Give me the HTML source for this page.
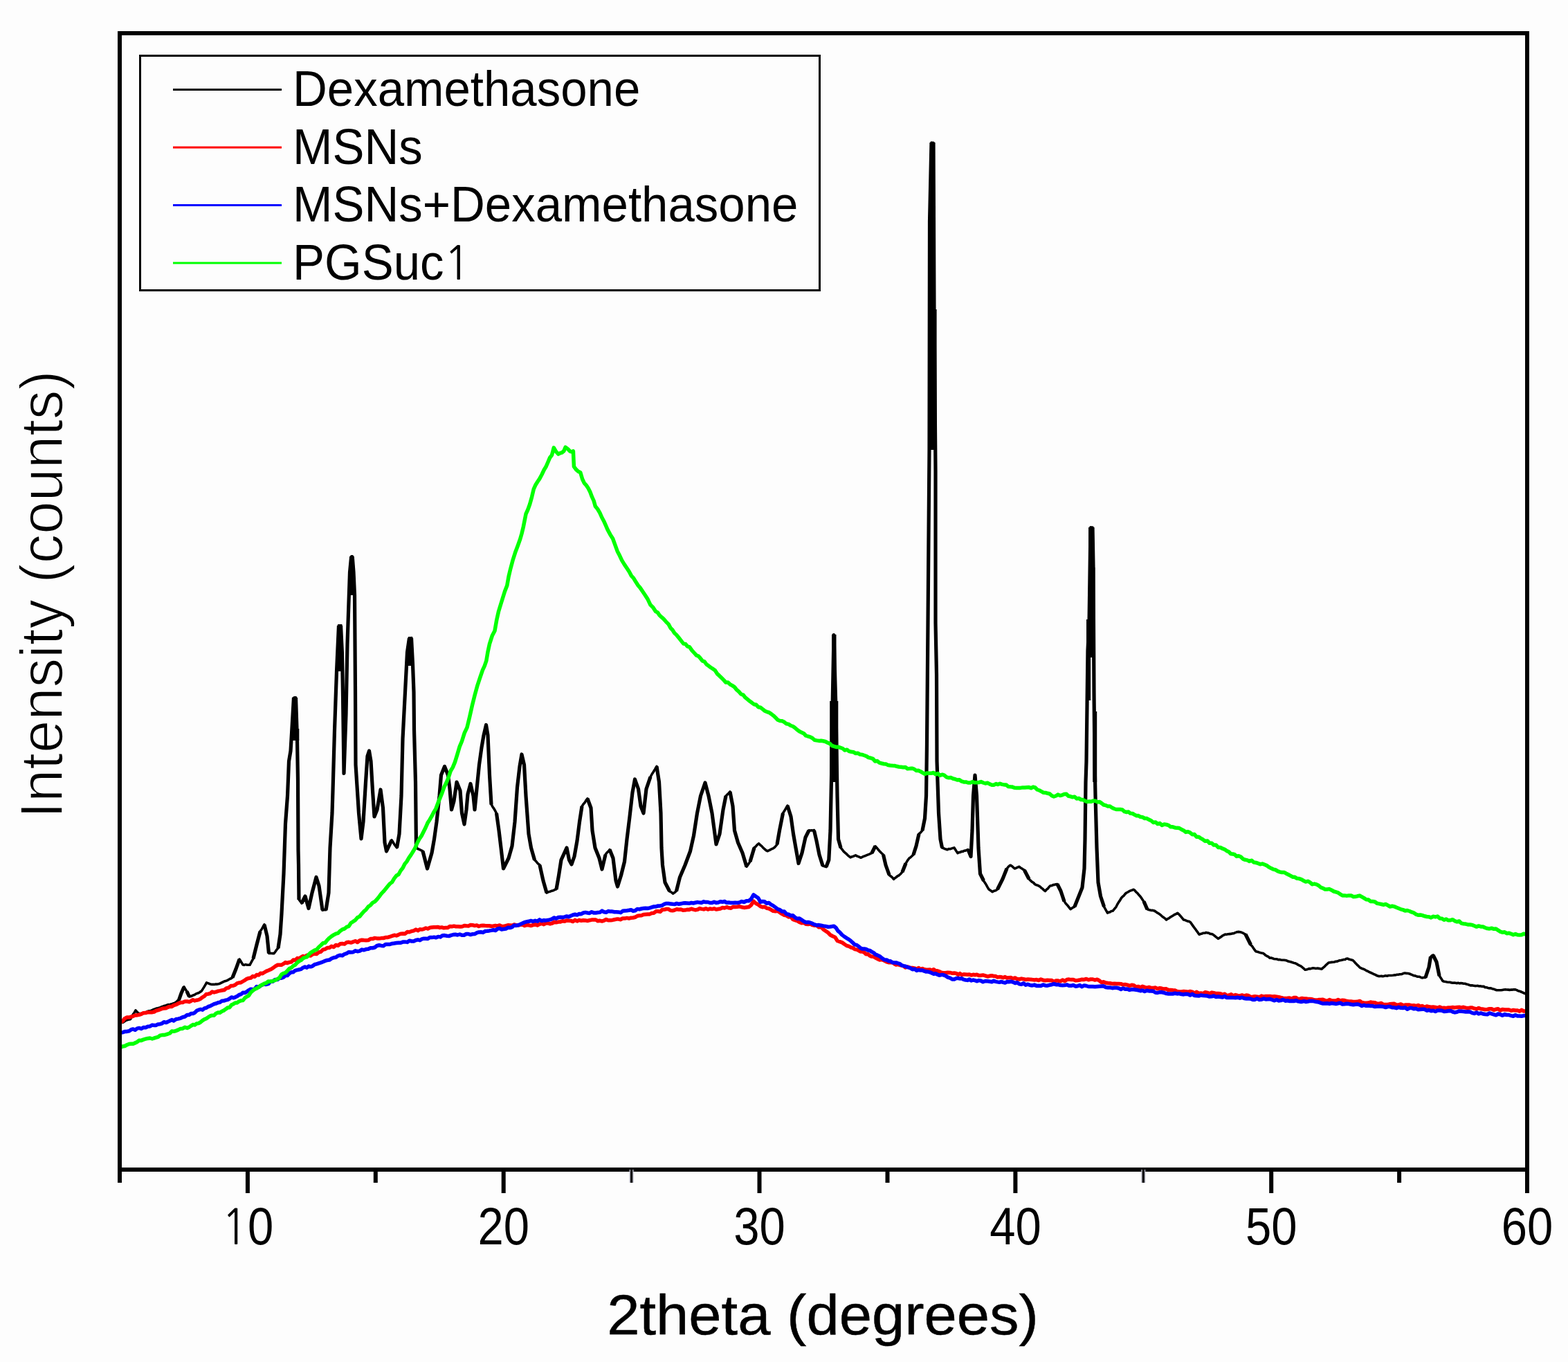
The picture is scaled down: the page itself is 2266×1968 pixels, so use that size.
<!DOCTYPE html>
<html><head><meta charset="utf-8"><title>XRD</title>
<style>html,body{margin:0;padding:0;background:#fdfdfd;}svg{display:block;}</style>
</head><body>
<svg width="2266" height="1968" viewBox="0 0 2266 1968">
<rect width="2266" height="1968" fill="#fdfdfd"/>
<g fill="none" stroke-linejoin="round" stroke-linecap="butt">
<path d="M176 1477.7L177.8 1477.3L179.5 1476.2L181.2 1474.8L183 1474L184.8 1473.5L186.7 1473.1L188.5 1472.7L190.4 1469.1L192.2 1465.9L194.1 1463.4L196 1459.9L198.5 1462.7L201 1464.6L203 1464.5L205 1464.2L207 1463.3L209 1463.4L211 1462.8L212.9 1461.5L214.8 1460.9L216.6 1460.7L218.5 1460.4L220.4 1459.3L222.2 1458.5L224.1 1458.1L226 1457.1L227.9 1456.7L229.8 1456.2L231.6 1455.6L233.5 1454.8L235.4 1454.2L237.2 1453.5L239.1 1453.1L241 1452.3L243 1451.6L245 1451.8L247 1451L249 1450.6L251 1449.7L252.9 1449.1L254.8 1447.8L256.6 1445.9L258.5 1444.9L260.2 1440.2L262 1435.2L264 1430.8L266 1425.9L268 1429.5L270 1432.6L271.8 1436.1L273.5 1440.1L275.4 1439.7L277.2 1439L279.1 1438.1L281 1437.6L283 1436.1L285 1435.3L287 1434.7L289 1433.4L291 1432.2L292.9 1429.4L294.8 1426.4L296.6 1423.3L298.5 1419.9L300.4 1420.6L302.2 1421.3L304.1 1422.1L306 1422.5L307.9 1422.4L309.8 1422.5L311.6 1422.1L313.5 1422.1L315.6 1421.8L317.7 1421.2L319.8 1420.1L321.8 1419.1L323.9 1418.1L326 1417.5L328 1416.9L330 1415.7L332 1414.5L334 1413.8L336 1412.3L338.5 1406.3L341 1400.4L343.5 1393.1L346 1386L348.5 1389.8L351 1394L353 1394.4L355 1393.6L357 1394.2L359 1394.3L361 1394.3L363.5 1389.7L366 1385.2L368.5 1375L371 1365L373.5 1355.4L376 1345.6L378 1343L380 1339.4L382 1335.8L384 1344.3L386 1352.5L388.5 1377.4L390.4 1377.4L392.2 1377.5L394.1 1377.6L396 1377.6L398 1375L400 1372.1L402 1369.8L403.5 1359.7L405 1350.1L407 1320.3L408.5 1291.5L410 1262.7L412.5 1190.3L414 1169.8L415.5 1150.3L417.5 1100.1L420 1084.7L421.5 1059.6L423 1033.6L424.5 1008.2L426 1007.8L427.5 1007.7L429 1053.1L429.5 1069.9L430.5 1126.7L431 1227.7L431.5 1250L432 1299.7L434 1302.3L436 1305.2L438.5 1300L441 1294.9L443.5 1303.7L446 1312.1L448.5 1301.2L451 1289.9L453 1282.3L455 1274.7L457 1267.8L459 1273.8L461 1279.8L463.5 1297.6L466 1315.3L468.5 1314.6L471 1314.6L473 1302.2L475 1290.2L477 1224.7L478.5 1200.2L480 1175.1L481 1142.5L483.5 1054.8L485 1012.9L486.5 970.2L488 937L489.5 903.8L491 904.1L492.5 903.9L494.5 945.1L495.5 1004.9L497 1117.6L498.5 1074.6L500 1032.3L502 930.4L504 870.3L505.5 826.8L507.7 804.3L509.2 803.8L511 827.4L512.5 860.2L513 929.9L513.5 999.8L514 1104.6L516.2 1140.3L518.5 1174.6L520.2 1193.8L522 1212.4L523.5 1199.8L525 1187.2L526.8 1159L528.5 1130.4L531 1092.7L533.5 1085L536 1099.9L538.5 1142.4L541 1179.8L543 1175.1L545 1169.9L547.5 1155.3L550 1140.7L551.8 1154.4L553.5 1167.3L556 1217.5L558.5 1229.9L560.4 1226.3L562.2 1222.3L564.1 1217.6L566 1213.8L567.9 1216.6L569.8 1219.9L571.6 1222.5L573.5 1224.9L575.2 1214.8L577 1205.1L578.5 1177.8L580 1150.3L582 1067.4L584 1029.1L586 990.1L588.5 942.5L590 932.6L591.5 921.8L593 922.2L594.5 921.7L596.5 959.7L598 1000.3L598.5 1054.8L600.5 1130.2L601.5 1225.1L603.8 1226.5L606 1227.4L608.5 1228.6L611 1229.8L613.2 1238.6L615.3 1246.7L617.5 1255.4L619.7 1247.8L621.8 1239.7L624 1232.5L625.8 1222.2L627.5 1212.1L629.2 1199.7L631 1187.8L633 1169L635 1150.3L637.5 1119.9L640 1113.8L642.5 1107.7L645 1113.7L647.5 1120.1L650 1139.8L652.5 1169.7L654.2 1163.6L656 1157.8L658 1143.8L660 1130.3L662.5 1136.2L665 1142.3L667.5 1175.2L669.2 1183.3L671 1190.6L672.5 1180.6L674 1169.7L676 1147.2L678 1140.3L680 1132.1L682 1141L684 1150.4L686 1169.9L687.5 1154.7L689 1139.7L690.8 1122.3L692.5 1105.2L694.2 1092.2L696 1080.3L697.5 1071.2L699 1062.9L700.8 1055.3L702.5 1047.3L705 1062.3L707.5 1120L710 1162.2L711.9 1165.7L713.8 1168.4L715.6 1171.5L717.5 1175.4L719.2 1187.3L721 1200.1L722.5 1212.5L724 1224.9L725.8 1239.7L727.5 1255.3L729.4 1251.6L731.2 1247.9L733.1 1243.4L735 1239.8L737.5 1231.3L740 1222.9L742 1205L744 1187.7L745.8 1162.6L747.5 1137.3L749.2 1122.5L751 1107.3L752.5 1098.5L754 1089.7L755.8 1097.3L757.5 1105.4L760 1150L762 1177.6L764 1205.1L765.8 1215.4L767.5 1224.9L770 1233.6L772.5 1242.4L774.4 1244.2L776.2 1246.5L778.1 1248.4L780 1249.8L782.5 1261.1L785 1272.5L787.5 1281.3L790 1290.1L791.9 1289.2L793.8 1288.4L795.6 1287.9L797.5 1287.2L799.7 1286.7L801.8 1285.5L804 1284.7L805.8 1275.1L807.5 1264.8L809.2 1254L811 1242.5L813 1238.4L815 1233.5L817 1229.4L819 1225.2L820.8 1233.4L822.5 1242.9L824.2 1245.5L826 1249.2L828 1243.6L830 1237.8L832 1226.1L834 1214.7L835.8 1201.3L837.5 1187.8L839.2 1176.1L841 1165.3L843 1162L845 1159.8L847 1156.4L849 1153.9L851.5 1161.1L854 1167.7L856 1200.3L858 1212.8L860 1225.2L862 1230.2L864 1234.7L866 1239.9L868 1247.7L870 1256.2L872.5 1245.6L875 1234.8L877 1232.2L879 1230.4L881 1227.7L883.5 1233.8L886 1240L888 1256.5L890 1272.5L892.5 1280.9L895 1272.9L897.5 1264.8L900 1254.6L902.5 1245.1L904.2 1228.7L906 1212.6L908 1195.9L910 1179.9L912 1162.2L914 1144.7L915.8 1135.3L917.5 1126.3L920 1132.9L922.5 1139.9L924.2 1152.6L926 1164.8L928 1169.6L930 1175L932 1157.5L934 1140.1L936 1134.1L938 1128.5L940 1122.7L942.2 1118.5L944.5 1115L946.8 1111.2L949 1107.3L950.8 1118.7L952.5 1130L955 1175.3L956 1225.3L957.5 1249.8L959.2 1262.6L961 1274.6L963.2 1278.8L965.3 1283.3L967.5 1287.8L970 1289L972.5 1291.2L975 1289.6L977.5 1287.3L980 1277.7L982.5 1267.8L984.4 1263L986.2 1258.9L988.1 1254.6L990 1250.1L991.9 1245.3L993.8 1240.3L995.6 1235.4L997.5 1230.1L1000 1218.5L1002.5 1207.3L1005 1191L1007.5 1175.1L1010 1162.7L1012.5 1149.6L1014.7 1143.8L1016.8 1137.5L1019 1130.9L1021.5 1140.5L1024 1149.7L1026.5 1162.7L1029 1174.6L1031 1190.4L1033 1205.2L1035 1220.1L1037.5 1212.3L1040 1205.3L1042.5 1187.9L1045 1169.7L1047 1160.2L1049 1150.3L1051 1148.1L1053 1146.2L1055 1144L1057 1154.8L1059 1165.4L1061.5 1199.9L1064 1209L1066.5 1217.4L1068.7 1222.2L1070.8 1227.4L1073 1232.2L1075 1239.5L1077 1246.2L1079 1252.2L1081.5 1248.8L1084 1244.9L1086 1238L1088 1231.5L1090 1224.8L1092.2 1223.2L1094.3 1220.6L1096.5 1218.8L1098.7 1221L1100.8 1222.6L1103 1225.1L1105 1226.8L1107 1228.6L1109 1229.8L1111 1228.8L1113 1228L1115 1226.8L1117 1226.1L1119 1224.8L1121 1222.6L1123 1220.2L1124.8 1210.2L1126.5 1200.4L1129 1187.5L1131.5 1175L1133.7 1171.6L1135.8 1167.9L1138 1164.1L1140.5 1171.9L1143 1179.8L1144.8 1192.2L1146.5 1205.2L1148.2 1214.7L1150 1225.2L1152 1236.3L1154 1247.9L1156.5 1240.2L1159 1232.9L1161.5 1221L1164 1210L1166.5 1205.1L1169 1199.8L1170.9 1200L1172.8 1199.9L1174.6 1200L1176.5 1199.6L1178.2 1207.5L1180 1215L1182 1224.8L1184 1234.9L1186.5 1243.2L1189 1251.1L1191.5 1251.7L1194 1252.6L1195.9 1247.4L1197.8 1242.3L1200 1199.6L1201.5 1124.8L1203 1025.1L1205 917.8L1206.5 971.5L1208 1025L1210 1150.4L1211.5 1212.5L1213.2 1219L1215 1224.9L1217.2 1227.7L1219.3 1230.4L1221.5 1232.3L1223.4 1233.9L1225.2 1235.8L1227.1 1237.4L1229 1238.9L1230.9 1237.9L1232.8 1237.4L1234.6 1236.7L1236.5 1235.9L1238.4 1237L1240.2 1237.6L1242.1 1238.4L1244 1239.3L1246 1238.4L1248 1237.4L1250 1236.8L1252 1235.9L1254 1235.1L1256 1234.3L1258 1233.3L1260 1232.6L1262.5 1227.6L1265 1222.8L1267.2 1225.2L1269.3 1227.8L1271.5 1230.2L1274 1232.8L1276.5 1235.1L1278.2 1242.4L1280 1249.8L1282.5 1257.2L1285 1264.3L1287.2 1266L1289.3 1267.7L1291.5 1270.3L1293.4 1268.7L1295.2 1267.5L1297.1 1265.9L1299 1265L1301.5 1262.7L1304 1259.9L1306.5 1253.6L1309 1247.6L1311.5 1243.4L1314 1240L1316 1238.7L1318 1236.8L1320 1234.9L1322 1228.9L1324 1222.6L1326 1213.5L1328 1204.8L1330.5 1202.8L1333 1199.8L1334.8 1190.9L1336.5 1182.8L1338.5 1150L1339.5 1074.9L1341 900L1343 650.2L1343.5 319.7L1346 206.1L1347.5 206.2L1349 206.3L1350 449.8L1352 680.1L1352 899.8L1353.5 975L1354 1099.7L1356.5 1175.2L1359 1212.8L1361.5 1224.9L1363.4 1225.4L1365.2 1226.6L1367.1 1227L1369 1227.8L1371 1226.6L1373 1226.8L1375 1226.1L1377 1225.4L1379 1224.9L1381.5 1229L1384 1232.7L1385.9 1231.6L1387.8 1231.4L1389.6 1230.4L1391.5 1230.4L1393.4 1229.3L1395.2 1229.1L1397.1 1228.3L1399 1227.6L1401 1232.3L1403 1237.5L1405 1199.7L1406.5 1149.7L1409 1120.2L1411.5 1149.9L1414 1225.2L1416.5 1262.3L1419 1267.7L1421.5 1272.7L1423.4 1275.5L1425.2 1278.4L1427.1 1281.8L1429 1285L1431.5 1286.7L1434 1288.7L1435.9 1287.6L1437.8 1287.1L1439.6 1286.3L1441.5 1284.8L1443.4 1280.9L1445.2 1277.7L1447.1 1274L1449 1270.4L1451 1265.1L1453 1259.9L1455 1255.3L1457.5 1252.2L1460 1250.2L1462.2 1251.3L1464.3 1253.3L1466.5 1255L1468.7 1254.1L1470.8 1253.1L1473 1252.3L1474.9 1254L1476.8 1255L1478.6 1256.3L1480.5 1257.3L1482.7 1261.8L1484.8 1265.7L1487 1270.1L1489.1 1272.2L1491.2 1274.1L1493.4 1275.3L1495.5 1277.7L1497.4 1278.7L1499.2 1279.1L1501.1 1280L1503 1281.1L1504.9 1283L1506.8 1284.2L1508.6 1286.2L1510.5 1287.7L1512.4 1285.3L1514.2 1284.1L1516.1 1281.5L1518 1279.7L1520 1279.6L1522 1278.6L1524 1278.4L1526 1277.7L1528 1277.5L1530.5 1282.8L1533 1287.8L1535.5 1294.6L1538 1302.1L1540.2 1305.6L1542.5 1307.9L1544.8 1310.9L1547 1313.7L1549 1312.3L1551 1311L1553 1310.1L1555.5 1303.9L1558 1297.6L1560 1292.8L1562 1287.6L1564 1282.4L1565.5 1268.9L1567 1255.4L1568 1212.6L1569 1129.8L1570 1099.6L1572 940.3L1574 900.1L1576 761.9L1577.5 762.1L1579 762L1580 820L1581 999.6L1582 1099.9L1583 1149.9L1585 1224.8L1587 1275.3L1588.8 1284.9L1590.5 1295.1L1593 1302.7L1595.5 1310.2L1598 1314.7L1600.5 1319.2L1602.4 1318.1L1604.2 1317.9L1606.1 1316.5L1608 1316.3L1610.5 1313.3L1613 1310.3L1614.9 1306.5L1616.8 1303.4L1618.6 1300.9L1620.5 1297.5L1622.4 1295.5L1624.2 1294.1L1626.1 1291.5L1628 1290L1630 1289L1632 1287.7L1634 1286.9L1636 1286.2L1638 1285.3L1639.9 1286.5L1641.8 1288.8L1643.6 1290.3L1645.5 1292.7L1647.4 1294.7L1649.2 1297.1L1651.1 1299.9L1653 1302.7L1655.5 1308.1L1658 1313.7L1660 1314.6L1662 1315L1664 1315.5L1666 1315.4L1668 1315.9L1670 1317.1L1672 1318.6L1674 1319.8L1676 1321.1L1678 1322.7L1679.9 1324.5L1681.8 1325.8L1683.6 1327.1L1685.5 1329.1L1687.4 1327.7L1689.2 1326.9L1691.1 1325.4L1693 1324.3L1695.2 1322.9L1697.4 1321.5L1699.6 1320.6L1701.8 1319.3L1703.9 1321.3L1706.1 1323.7L1708.3 1326.4L1710.5 1329L1712.5 1329.4L1714.5 1330.3L1716.5 1331.2L1718.5 1331.4L1720.5 1332.8L1723 1336.4L1725.5 1339.9L1727.4 1342.3L1729.2 1344.9L1731.1 1347.4L1733 1350.2L1735 1349.5L1737 1349L1739 1348.2L1741 1348.3L1743 1347.4L1745 1347.9L1747 1348.2L1749 1349.4L1751 1349.5L1753 1350.3L1754.9 1351.8L1756.8 1353.4L1758.6 1354.8L1760.5 1356.3L1762.5 1355.1L1764.5 1353.8L1766.5 1352.1L1768.5 1351.2L1770.5 1350.1L1772.5 1350.2L1774.5 1349.8L1776.5 1349.6L1778.5 1349.4L1780.5 1348.9L1782.5 1348.8L1784.5 1347.9L1786.5 1347.1L1788.5 1346.6L1790.5 1346.4L1792.4 1346.8L1794.3 1347.3L1796.2 1348.1L1798.1 1349.3L1800 1350.1L1801.9 1354.1L1803.8 1357.2L1805.6 1361.2L1807.5 1365.2L1809.4 1367.1L1811.2 1369.7L1813.1 1372.5L1815 1374.8L1817 1375.2L1819 1375.8L1821 1376.6L1823 1377L1825 1377.2L1827 1378.5L1829 1380.4L1831 1381.5L1833 1382.4L1835 1384.3L1837 1384L1839 1384.7L1841 1385.5L1843 1385.8L1845 1385.8L1847.1 1386.6L1849.2 1386.6L1851.2 1387L1853.3 1387.3L1855.4 1387.2L1857.5 1387.6L1859.6 1388.1L1861.7 1389L1863.8 1389.5L1865.8 1390L1867.9 1390.7L1870 1391.4L1872 1391.8L1874 1392.8L1876 1394.2L1878 1395.2L1880 1396L1882 1397.7L1884 1399.3L1886 1401.3L1887.9 1400.9L1889.8 1400.4L1891.8 1399.6L1893.7 1399.9L1895.6 1399.3L1897.5 1398.8L1899.6 1399L1901.7 1399.5L1903.8 1399.1L1905.8 1399.4L1907.9 1399.7L1910 1400.3L1912 1398.4L1914 1396.8L1916 1394.6L1918 1392.9L1920 1391L1922.1 1390.7L1924.2 1390.4L1926.2 1390.3L1928.3 1390L1930.4 1389.3L1932.5 1389.1L1934.4 1388.3L1936.2 1387.8L1938.1 1387.5L1940 1387.1L1941.9 1386.5L1943.8 1386.4L1945.6 1385.2L1947.5 1385.1L1949.4 1386L1951.2 1386.4L1953.1 1386.9L1955 1387.4L1957 1389.4L1959 1391.8L1961 1393.8L1963 1395.6L1965 1397.8L1967 1398.8L1969 1399.8L1971 1400.4L1973 1401.5L1975 1402.7L1977 1403.4L1979 1404.7L1981 1405.5L1983 1406.4L1985 1407.5L1986.9 1408.1L1988.8 1409.1L1990.6 1410.1L1992.5 1410.6L1994.5 1410.5L1996.5 1410.4L1998.5 1410.7L2000.5 1410.3L2002.5 1409.8L2004.6 1410.2L2006.7 1409.5L2008.8 1409.5L2010.8 1409.5L2012.9 1409.3L2015 1408.9L2016.9 1408.9L2018.9 1408.3L2020.8 1408.2L2022.8 1407.7L2024.7 1407.7L2026.7 1407.2L2028.6 1406.3L2030.6 1406L2032.5 1406.4L2034.6 1406.5L2036.7 1407L2038.8 1407.8L2040.8 1408.7L2042.9 1409.7L2045 1409.9L2047 1410.7L2049 1411.3L2051 1411.2L2053 1412.1L2055 1412.9L2057.5 1412.5L2060 1412.5L2062.5 1404.9L2065 1397.9L2067.5 1382.9L2069.2 1380.9L2071 1380L2073.5 1384.9L2076 1390.1L2078 1399.7L2080 1409.8L2082.5 1413.6L2085 1417.5L2087.1 1418.2L2089.2 1418.6L2091.2 1419L2093.3 1419.3L2095.4 1419.3L2097.5 1419.9L2099.4 1420.2L2101.4 1420.1L2103.3 1420.3L2105.3 1420.8L2107.2 1420.2L2109.2 1420.9L2111.1 1420.5L2113.1 1420.8L2115 1421.3L2117.1 1421.3L2119.2 1422L2121.2 1422.4L2123.3 1423.3L2125.4 1423.9L2127.5 1423.8L2129.6 1424.2L2131.7 1424.6L2133.8 1424.5L2135.8 1424.4L2137.9 1425L2140 1424.9L2142.1 1425.4L2144.2 1425.4L2146.2 1426.6L2148.3 1426.8L2150.4 1427.4L2152.5 1427.9L2154.6 1427.9L2156.7 1428.7L2158.8 1429.2L2160.8 1430L2162.9 1430.7L2165 1430.8L2167.1 1430.7L2169.2 1430.8L2171.2 1430.4L2173.3 1430L2175.4 1429.9L2177.5 1430L2179.6 1430.1L2181.7 1430.4L2183.8 1430L2185.8 1430.1L2187.9 1429.7L2190 1429.9L2192 1430.6L2194 1431.8L2196 1432.2L2198 1433L2200 1433.9L2202.5 1435L2205 1436" stroke="#000" stroke-width="3.6"/>
<path d="M258.5 1445L262 1435L266 1426M270 1432.5L273.5 1440M336 1412.5L341 1400L346 1386M366 1385L371 1365L376 1346M382 1336L386 1352.5L388.5 1377.5M402 1370L405 1350L407 1320L410 1262.5L412.5 1190L415.5 1150L417.5 1100L420 1085L421.5 1060L424.5 1008M427.5 1008L429 1053L429.5 1070L430.5 1127L431 1228L431.5 1250L432 1300M436 1305L441 1295L446 1312.5L451 1290L457 1267.5L461 1280L466 1315M471 1315L475 1290L477 1225L480 1175L481 1142.5L483.5 1055L486.5 970L489.5 904M492.5 904L494.5 945L495.5 1005L497 1117.5L500 1032.5L502 930L504 870L505.5 827L507.7 804M509.2 804L511 827L512.5 860L513 930L513.5 1000L514 1105L518.5 1175L522 1212L525 1187.5L528.5 1130L531 1092.5L533.5 1085L536 1100L538.5 1142.5L541 1180L545 1170L550 1141L553.5 1167.5L556 1217.5L558.5 1230L566 1214M573.5 1225L577 1205L580 1150L582 1067.5L586 990L588.5 942.5L591.5 922M594.5 922L596.5 960L598 1000L598.5 1055L600.5 1130L601.5 1225M611 1230L617.5 1255L624 1232.5L627.5 1212.5L631 1187.5L635 1150L637.5 1120L642.5 1107.5L647.5 1120L650 1140L652.5 1170L656 1157.5L660 1130L665 1142.5L667.5 1175L671 1191L674 1170L676 1147.5L680 1132.5L684 1150L686 1170L689 1140L692.5 1105L696 1080L699 1062.5L702.5 1047.5L705 1062.5L707.5 1120L710 1162.5M717.5 1175L721 1200L724 1225L727.5 1255L735 1240L740 1222.5L744 1187.5L747.5 1137.5L751 1107.5L754 1090L757.5 1105L760 1150L764 1205L767.5 1225L772.5 1242.5M780 1250L785 1272.5L790 1290M804 1285L807.5 1265L811 1242.5L819 1225L822.5 1242.5L826 1249L830 1237.5L834 1215L837.5 1187.5L841 1165M849 1154L854 1167.5L856 1200L860 1225L866 1240L870 1256L875 1235M881 1227.5L886 1240L890 1272.5L892.5 1281L897.5 1265L902.5 1245L906 1212.5L910 1180L914 1145L917.5 1126L922.5 1140L926 1165L930 1175L934 1140L940 1122.5M949 1107.5L952.5 1130L955 1175L956 1225L957.5 1250L961 1275L967.5 1287.5M977.5 1287.5L982.5 1267.5L990 1250L997.5 1230L1002.5 1207.5L1007.5 1175L1012.5 1150L1019 1131L1024 1150L1029 1175L1035 1220L1040 1205L1045 1170L1049 1150M1055 1144L1059 1165L1061.5 1200L1066.5 1217.5L1073 1232.5L1079 1252.5M1084 1245L1090 1225M1123 1220L1126.5 1200L1131.5 1175M1138 1164L1143 1180L1146.5 1205L1150 1225L1154 1247.5L1159 1232.5L1164 1210L1169 1200M1176.5 1200L1180 1215L1184 1235L1189 1251M1194 1252.5L1197.8 1242.5L1200 1200L1201.5 1125L1203 1025L1205 917.5L1208 1025L1210 1150L1211.5 1212.5L1215 1225M1260 1232.5L1265 1222.5M1276.5 1235L1280 1250L1285 1264M1304 1260L1309 1247.5M1320 1235L1324 1222.5L1328 1205M1333 1200L1336.5 1182.5L1338.5 1150L1339.5 1075L1341 900L1343 650L1343.5 320L1346 206M1349 206L1350 450L1352 680L1352 900L1353.5 975L1354 1100L1356.5 1175L1359 1212.5L1361.5 1225M1399 1227.5L1403 1237.5L1405 1200L1406.5 1150L1409 1120L1411.5 1150L1414 1225L1416.5 1262.5L1421.5 1272.5M1441.5 1285L1449 1270L1455 1255M1480.5 1257.5L1487 1270M1528 1277.5L1533 1287.5L1538 1302.5M1553 1310L1558 1297.5L1564 1282.5L1567 1255L1568 1212.5L1569 1130L1570 1100L1572 940L1574 900L1576 762M1579 762L1580 820L1581 1000L1582 1100L1583 1150L1585 1225L1587 1275L1590.5 1295L1595.5 1310M1653 1302.5L1658 1314M1800 1350L1807.5 1365M2060 1412.5L2065 1397.5L2067.5 1382.5M2071 1380L2076 1390L2080 1410" stroke="#000" stroke-width="5.2"/>
<g fill="#000" stroke="none"><rect x="503.8" y="827" width="8.8" height="33"/><rect x="420.3" y="1053" width="12" height="17"/><rect x="423.1" y="1007" width="5.9" height="46"/><rect x="488.1" y="902" width="6.3" height="43"/><rect x="488.1" y="945" width="8.8" height="25"/><rect x="506.9" y="802" width="3.1" height="25"/><rect x="590" y="920" width="6.2" height="22"/><rect x="586.9" y="942" width="9.4" height="20"/><rect x="1344.6" y="206" width="6.3" height="111"/><rect x="1341.3" y="317" width="9.6" height="130"/><rect x="1341.3" y="447" width="12.3" height="203"/><rect x="1202.1" y="917" width="6.4" height="96"/><rect x="1199.2" y="1013" width="12.1" height="117"/><rect x="1573.1" y="762" width="6.1" height="58"/><rect x="1573.1" y="820" width="9.3" height="75"/><rect x="1570" y="895" width="12.4" height="55"/><rect x="1570" y="950" width="6.2" height="62"/><rect x="1579.2" y="950" width="3.2" height="78"/><rect x="1579.2" y="1028" width="6" height="102"/></g>
<path d="M174 1477.1L177.2 1475.4L180.3 1471.6L183.5 1470L186.7 1470.1L189.6 1469.2L192.4 1468.4L195.3 1466.9L198.1 1466.9L201 1466.3L204.2 1465.4L207.3 1463.7L210.5 1463.6L213.7 1462.7L216.8 1462.8L220 1462.7L222.8 1462L225.7 1460.4L228.5 1459.6L231.3 1458.6L234.2 1457.5L237 1456.9L239.8 1456.8L242.6 1455.4L245.4 1454.4L248.2 1454.5L251 1452.6L254.2 1451.7L257.5 1450L260.8 1448.6L264 1448.4L267.2 1447L270.5 1447L273.2 1447.7L276 1446.4L278.8 1444.7L281.5 1445.9L284.2 1445.2L287 1444.6L289.8 1443.2L292.6 1441L295.4 1439.3L298.2 1436.4L301 1436.2L303.8 1435.5L306.6 1433L309.4 1433.9L312.3 1433.2L315.1 1432.1L317.9 1431.6L320.7 1431L324 1430.5L327.2 1427.9L330.5 1427.2L333.7 1424.5L337 1424.2L339.8 1423.1L342.6 1420.9L345.4 1420L348.2 1419.7L351 1418L353.9 1416.3L356.7 1414.4L359.6 1413.4L362.4 1413.1L365.3 1410.6L368.1 1411.2L371 1408.4L373.8 1408.9L376.5 1406.3L379.3 1406.7L382.1 1405L384.8 1403.4L387.6 1402.3L391 1400.8L394.3 1398.9L397.6 1396.4L401 1394.3L403.9 1394.2L406.7 1394.3L409.6 1392.7L412.4 1390.6L415.3 1391.5L418.1 1390.4L421 1390L423.8 1387.1L426.7 1387.4L429.5 1384.6L432.3 1384.9L435.2 1382.9L438 1381.6L440.8 1382.6L443.5 1380.2L446.3 1380.7L449.1 1380.9L451.8 1378.9L454.6 1378.2L457.7 1378.4L460.7 1375.9L463.8 1375.2L466.8 1372.1L469.9 1371.5L472.9 1369.6L476 1369.4L479.1 1367.2L482.2 1368.5L485.4 1365.4L488.5 1366.3L491.6 1363.8L494.8 1363.5L497.9 1364.1L501 1361.7L504.1 1361.3L507.2 1362.1L510.4 1360.9L513.5 1359.7L516.6 1361.5L519.8 1359L522.9 1358.3L526 1358.6L529.1 1358.8L532.2 1358.6L535.4 1356.6L538.5 1356.6L541.6 1355.4L544.8 1355.9L547.9 1356.1L551 1355.6L554.1 1355.5L557.2 1354.6L560.4 1354.4L563.5 1353.5L566.6 1352.4L569.8 1351.3L572.9 1351.9L576 1350.6L579.1 1349.2L582.2 1349.1L585.4 1349.3L588.5 1346.6L591.6 1346.8L594.8 1345.5L597.9 1344.9L601 1343.1L603.9 1344.7L606.8 1342.7L609.6 1343.1L612.5 1342.3L615.4 1341L618.2 1341.9L621.1 1340.5L624 1339.9L626.9 1339.7L629.8 1339.7L632.7 1339.4L635.6 1340.4L638.4 1339.9L641.3 1340.8L644.2 1340.5L647.1 1340.4L650 1338.4L653 1338.7L656 1338.1L659 1338.8L662 1338.8L665 1339.1L668 1338.7L671 1337.5L674 1337.8L677 1337.9L680 1336.5L683 1336.7L686 1337.6L689 1337L692 1338.5L695 1337.5L698 1337.2L701 1337.5L704 1337.7L707 1337.7L710 1338.3L713 1338L716 1337.5L719 1338.1L722 1336.9L725 1338.4L728 1338.4L731 1337.7L734 1336.8L737 1337L740 1337.2L743 1335.9L746 1336.8L749 1337.1L752 1336.2L755 1336L758 1337.7L761 1336.7L764.1 1336.8L767.2 1337.6L770.3 1336.6L773.4 1335.6L776.6 1337L779.7 1335.4L782.8 1334.3L785.9 1335.7L789 1334L792 1334.1L795 1334.9L798 1334.1L801 1332.1L804 1332.7L807 1332.1L810 1331.9L813 1330.7L816 1331.2L819 1329.9L822 1330.3L825 1330.4L828 1331.6L831 1329.4L834 1330.9L837 1329.5L840 1330.3L843 1329.7L846 1329.9L849 1330.6L852 1329.7L855 1329.1L858 1329.1L861 1329L864 1330.8L867 1330.3L870 1331.1L873 1330.2L876 1328.4L879 1329.7L882 1329.8L885 1329.4L888 1328.7L891 1328.1L894 1328.1L897 1328.7L900 1326.9L903 1327.1L906 1326.4L909 1327.1L912 1326.2L915 1326L918 1325.3L921 1323.5L924 1322.9L927 1322.8L930 1321.5L933 1321.2L936 1321L939 1320.9L942 1319.4L945 1319.2L948 1316.8L951 1316.7L954 1317.4L957 1314.5L960 1314.3L963 1313.5L966 1313.6L969 1315.5L972 1315.8L975 1315L978 1313.8L981 1314.2L984 1314.1L987 1315.2L990 1315.1L993 1314.3L996 1314.4L999 1313.2L1002 1314.1L1005 1314.9L1008 1314.3L1011 1312.6L1014 1313.4L1017 1313.9L1020 1312.7L1023 1314.1L1026 1313L1029 1313.6L1032 1312.8L1035 1314.1L1038 1313.5L1041 1313L1044.1 1311.6L1047.1 1312L1050.2 1310.7L1053.3 1311.8L1056.3 1312.2L1059.4 1310.2L1062.5 1310.6L1065.5 1310.3L1068.6 1309.8L1071.9 1310.7L1075.3 1311.4L1078.7 1311L1082 1310.6L1085.5 1307.8L1089 1302.2L1092.3 1305.2L1095.7 1307L1099 1309.6L1102 1310.8L1105 1310.3L1108 1312.3L1111 1312.8L1114 1314.4L1117.3 1316.3L1120.7 1316.7L1124 1316.3L1127.1 1318.7L1130.2 1320.5L1133.4 1322.2L1136.5 1322.9L1139.6 1324.9L1142.8 1324.6L1145.9 1328.4L1149 1329.6L1152.1 1330.5L1155.2 1332.5L1158.4 1333.7L1161.5 1333L1164.6 1335.3L1167.8 1335.6L1170.9 1334.8L1174 1336.6L1177.1 1337.2L1180.2 1337.3L1183.4 1339.7L1186.5 1339.1L1189.9 1343L1193.2 1345.2L1196.6 1347.5L1200 1351L1203.4 1352.8L1206.8 1354.2L1210.2 1359.4L1213.6 1360.6L1216.9 1361.8L1220.3 1364.3L1223.7 1366.5L1227 1367.4L1229.7 1369L1232.5 1369.7L1235.2 1371.6L1238 1372.1L1240.7 1373.3L1243.4 1375L1246.1 1374.9L1248.9 1376.1L1251.6 1378.8L1254.3 1378.5L1257 1381L1259.7 1382.1L1262.5 1382.3L1265.2 1384L1267.9 1385.4L1271.3 1386.9L1274.7 1386.6L1278 1388L1281.4 1389.9L1284.1 1390.7L1286.8 1390.8L1289.6 1390.6L1292.3 1392.5L1295 1394L1297.7 1393.4L1300.4 1394.6L1303.2 1395.1L1305.9 1396L1308.6 1397.9L1311.9 1397L1315.3 1398.4L1318.7 1398.5L1322 1399.1L1324.7 1400.3L1327.5 1398.5L1330.2 1400.6L1333 1399.6L1335.7 1400.7L1338.4 1401.3L1341.1 1401.2L1343.9 1400.9L1346.6 1402.2L1349.3 1400.7L1352 1402.7L1354.7 1402.8L1357.5 1403.8L1360.2 1405.2L1362.9 1405.7L1366.3 1405.7L1369.7 1405.2L1373 1405.4L1376.4 1406.3L1379.1 1406L1381.8 1406.4L1384.6 1408.3L1387.3 1406.6L1390 1408.6L1392.7 1407.8L1395.4 1408L1398.2 1408.2L1400.9 1407.9L1403.6 1409.1L1406.3 1408.3L1409 1408.8L1411.8 1408.3L1414.5 1409.6L1417.2 1409.5L1420.6 1408.9L1424 1409.8L1427.3 1411L1430.7 1410.1L1433.4 1409.8L1436.1 1410.4L1438.9 1410.6L1441.6 1412L1444.3 1411.6L1447 1411.7L1449.7 1412.8L1452.5 1411.6L1455.2 1413.1L1457.9 1412.8L1460.9 1412.6L1463.9 1413.9L1467 1413L1470 1414.6L1473 1415L1476.1 1414.1L1479.2 1414.7L1482.4 1415.5L1485.5 1415.1L1488.6 1415.2L1491.8 1415.6L1494.9 1415.9L1498 1415.6L1501.1 1416.5L1504.2 1415.1L1507.4 1416.2L1510.5 1416.7L1513.6 1416.2L1516.8 1416.6L1519.9 1416.4L1523 1418.6L1526.1 1417L1529.2 1417.1L1532.4 1417.9L1535.5 1416L1538.6 1417.7L1541.8 1415.5L1544.9 1415.1L1548 1415.6L1551.1 1415.5L1554.2 1416.8L1557.4 1416.5L1560.5 1416.1L1563.6 1415.2L1566.8 1415.4L1569.9 1414.5L1573 1415.8L1576.1 1415L1579.2 1415L1582.4 1416.1L1585.5 1415.2L1588.6 1416.8L1591.8 1419.5L1594.9 1418.8L1598 1420.1L1601.1 1420.5L1604.2 1420.8L1607.4 1421.4L1610.5 1421.2L1613.6 1421.6L1616.8 1421.5L1619.9 1421.7L1623 1422.8L1626.1 1422.5L1629.2 1423.1L1632.4 1424.5L1635.5 1423.2L1638.6 1423.8L1641.8 1426L1644.9 1425.4L1648 1426.7L1651.1 1425.3L1654.2 1426.4L1657.4 1427.4L1660.5 1426.4L1663.6 1427.6L1666.8 1427.4L1669.9 1427.1L1673 1428.7L1676.1 1427.7L1679.2 1428.3L1682.4 1429.1L1685.5 1428.8L1688.6 1430.5L1691.8 1430.4L1694.9 1430.8L1698 1431.1L1701.1 1432.5L1704.2 1432.9L1707.4 1432.9L1710.5 1432.4L1713.6 1432.7L1716.8 1433.3L1719.9 1432.5L1723 1433.1L1726.1 1435.3L1729.2 1433.4L1732.4 1435.4L1735.5 1434.9L1738.6 1435.6L1741.8 1433.7L1744.9 1434.4L1748 1435.7L1751.1 1434.1L1754.2 1434.7L1757.4 1435.6L1760.5 1435.5L1763.6 1435.7L1766.8 1437.3L1769.9 1436.2L1773 1438.6L1776.1 1438L1779.2 1436.8L1782.4 1439L1785.5 1437.6L1788.6 1438.4L1791.8 1438.8L1794.9 1437.9L1798 1439L1801.1 1438.1L1804.2 1438.5L1807.4 1440.4L1810.5 1440.3L1813.6 1439.7L1816.8 1440.2L1819.9 1440.8L1823 1439.1L1826.1 1440.1L1829.2 1439.4L1832.4 1439.5L1835.5 1439.6L1838.6 1439.9L1841.8 1439.7L1844.9 1440.2L1848 1440.7L1851.1 1441.5L1854.2 1442.2L1857.4 1442.5L1860.5 1442.3L1863.6 1442L1866.8 1443.1L1869.9 1441.5L1873 1441.6L1875.9 1443.5L1878.8 1443.2L1881.6 1442.4L1884.5 1443L1887.4 1443L1890.2 1443.5L1893.1 1443.6L1896 1443.8L1899.2 1444.9L1902.3 1445.1L1905.5 1444.6L1908.7 1444.6L1911.8 1444.3L1915 1445.6L1918.1 1446.3L1921.2 1444.6L1924.4 1445.9L1927.5 1446L1930.6 1446L1933.8 1444.6L1936.9 1446L1940 1445.3L1943.1 1445.5L1946.2 1446.6L1949.4 1446.9L1952.5 1447.1L1955.6 1447.5L1958.8 1447.6L1961.9 1447.3L1965 1446.4L1968.1 1448.5L1971.2 1448.9L1974.4 1449.2L1977.5 1449L1980.6 1448L1983.8 1448.6L1986.9 1448.7L1990 1450.3L1993.1 1450.2L1996.2 1449.5L1999.4 1451.5L2002.5 1451.6L2005.6 1451.6L2008.8 1450.7L2011.9 1450.4L2015 1450.3L2018.1 1452L2021.2 1451.9L2024.4 1451L2027.5 1452.7L2030.6 1452.1L2033.8 1451.9L2036.9 1452.1L2040 1453L2043.1 1452.7L2046.2 1453.5L2049.4 1452.5L2052.5 1454.2L2055.6 1453.5L2058.8 1455.4L2061.9 1454L2065 1454.6L2068.1 1455.2L2071.2 1455L2074.4 1455.4L2077.5 1456.5L2080.6 1454.9L2083.8 1456.4L2086.9 1456.3L2090 1456.7L2093.1 1455.9L2096.2 1455.9L2099.4 1455.6L2102.5 1455.9L2105.6 1455.4L2108.8 1455.3L2111.9 1455.9L2115 1455.3L2118.1 1456.1L2121.2 1456.6L2124.4 1456.1L2127.5 1456L2130.6 1457.2L2133.8 1458L2136.9 1456.6L2140 1457.8L2143.1 1458.1L2146.2 1458.8L2149.4 1458.5L2152.5 1457.8L2155.6 1457.7L2158.8 1459.4L2161.9 1458.3L2165 1457.8L2168.1 1460L2171.2 1458.5L2174.4 1458.9L2177.5 1459.1L2180.6 1459L2183.8 1460.3L2186.9 1459.5L2190 1459.9L2193 1460L2196 1461.2L2199 1459.4L2202 1461L2205 1461" stroke="#f00" stroke-width="5.5"/>
<path d="M174 1491.9L177.2 1491.8L180.3 1490.6L183.5 1490.4L186.7 1489.7L189.6 1487.7L192.4 1486.9L195.3 1488.2L198.1 1486.1L201 1485.4L204.2 1486.5L207.3 1484.6L210.5 1484.8L213.7 1483.2L216.8 1482.9L220 1481.1L222.8 1481.5L225.7 1481.4L228.5 1479.9L231.3 1479.7L234.2 1478.8L237 1476.7L239.8 1477.6L242.6 1476.4L245.4 1475L248.2 1473.6L251 1474.9L254.2 1472.7L257.5 1472.1L260.8 1471.3L264 1469.7L267.2 1469L270.5 1466.5L273.3 1466.4L276.1 1464.4L278.9 1464.5L281.6 1463.2L284.4 1460.3L287.2 1459.2L290 1458.4L292.7 1459.2L295.5 1456.9L298.2 1456.3L301 1454.5L303.8 1453.7L306.6 1452.1L309.4 1450.7L312.3 1450L315.1 1448.7L317.9 1448.2L320.7 1446.3L323.5 1446.1L326.3 1445.1L329 1444.6L331.8 1443L334.6 1440.9L337.4 1441.8L340.1 1440.8L342.8 1439.5L345.6 1437.5L348.3 1436.7L351 1434.3L353.8 1434.6L356.7 1432.8L359.5 1430.9L362.4 1429.2L365.2 1429.8L368.1 1429L370.9 1425.6L373.7 1426.4L376.5 1424.5L379.2 1422.9L382 1422.2L384.8 1422.4L387.6 1421.7L391 1418.3L394.3 1418.2L397.6 1415.4L401 1415.5L403.9 1413.3L406.7 1413.3L409.6 1412.2L412.4 1409.7L415.3 1409.6L418.1 1406.6L421 1404.7L423.8 1404.8L426.6 1402.3L429.4 1401.6L432.3 1401L435.1 1400.4L437.9 1398.2L440.7 1397.1L443.5 1398.2L446.2 1396.1L449 1396.8L451.8 1395.8L454.6 1393.7L457.7 1392.8L460.7 1391.8L463.8 1390.9L466.8 1389.7L469.9 1388.4L472.9 1387.4L476 1387.1L479.1 1385L482.2 1383.7L485.4 1383.3L488.5 1381.1L491.6 1380.2L494.8 1380.8L497.9 1378.6L501 1377.6L504.1 1375.7L507.2 1376L510.4 1375.8L513.5 1373.8L516.6 1374.7L519.8 1374.1L522.9 1372.1L526 1372.8L529.1 1371.6L532.2 1371.3L535.4 1369.7L538.5 1369.7L541.6 1369L544.8 1366.5L547.9 1365.8L551 1366.4L554.1 1366.7L557.2 1364.5L560.4 1364.6L563.5 1364.5L566.6 1363.4L569.8 1363L572.9 1362.5L576 1362.2L579.1 1362.3L582.2 1361.1L585.4 1360.9L588.5 1361.4L591.6 1359.2L594.8 1360L597.9 1360L601 1358.5L603.9 1357.8L606.8 1358.7L609.6 1356.9L612.5 1356.2L615.4 1356.3L618.2 1356.5L621.1 1354.5L624 1354.6L627.1 1354.1L630.2 1354.8L633.2 1353.4L636.3 1353.9L639.4 1351.7L642.5 1351.6L645.6 1352.2L648.8 1352.6L651.9 1351.4L655 1350.6L658.1 1350.2L661.2 1351L664.4 1350L667.5 1351.3L670.6 1351.2L673.8 1349.5L676.9 1349.5L680 1350.6L683 1349.7L686 1349.6L689 1347.9L692 1346.9L695 1346.7L698 1347.4L701 1345.6L704 1345.3L707 1344.9L710 1344.4L713 1343.8L716 1344.5L719 1342.2L722 1341.3L725 1343L728 1342.4L731 1342.1L734 1340.2L737 1340.6L740 1339.6L743 1337L746 1337.4L749 1336.7L752 1335.4L755 1334.1L758 1332.7L761 1331.9L764.1 1331.3L767.2 1330.5L770.3 1331.4L773.4 1330.3L776.6 1331.2L779.7 1328.9L782.8 1330.6L785.9 1329.7L789 1329.9L792 1329.4L795 1328.9L798 1327.7L801 1325.9L804 1327.2L807 1325.4L810 1325.2L813 1325.6L816 1324.9L819 1324L822 1324.7L825 1323.3L828 1322L831 1321.2L834 1322.1L837 1320.5L840 1320.7L843 1319L846 1318.4L849 1319L852 1319.5L855 1317.7L858 1318.9L861 1319L864 1318.5L867 1318.3L870 1316.1L873 1317.7L876 1318.3L879 1316.5L882 1317.1L885 1317.1L888 1317.8L891 1317.7L894 1317.9L897 1318.7L900 1316.3L903 1316L906 1315.7L909 1315.3L912 1314.7L915 1316.4L918 1315.7L921 1313.4L924 1313.9L927 1313L930 1312.6L933 1312.2L936 1312.5L939 1311.9L942 1310.9L945 1310L948 1309.9L951 1309L954 1308.9L957 1308.2L960 1306.3L963 1305.4L966 1305.5L969 1305.9L972 1306.3L975 1306.6L978 1305.4L981 1306.3L984 1305.7L987 1305.1L990 1304.8L993 1305L996 1305.3L999 1304.5L1002 1305L1005 1304.3L1008 1303.6L1011 1304.1L1014 1304.4L1017 1302.8L1020 1303.6L1023 1303.5L1026 1304.5L1029 1304.6L1032 1303.2L1035 1304.4L1038 1304.1L1041 1302.7L1044.1 1303.3L1047.1 1302.5L1050.2 1304.3L1053.3 1304L1056.3 1304.6L1059.4 1304.4L1062.5 1304.2L1065.5 1304.4L1068.6 1304.1L1071.9 1302.6L1075.3 1303.5L1078.7 1301.7L1082 1301.7L1085.5 1299L1089 1292.9L1092.3 1295.3L1095.7 1297.5L1099 1303.4L1102 1302.4L1105 1302.8L1108 1305.4L1111 1304.4L1114 1306.8L1117.3 1308.6L1120.7 1311.1L1124 1313.6L1127.1 1314.6L1130.2 1317L1133.4 1317L1136.5 1320.6L1139.6 1321.3L1142.8 1323L1145.9 1322.8L1149 1325.6L1152.1 1327.5L1155.2 1326.9L1158.4 1329.1L1161.5 1331.2L1164.6 1332.8L1167.8 1332.4L1170.9 1333.2L1174 1334.4L1177.1 1335.9L1180.2 1336.9L1183.4 1336.6L1186.5 1337.2L1189.9 1337.9L1193.2 1338.4L1196.6 1339.2L1200 1339L1202.7 1338.6L1205.4 1338.3L1208.1 1340.6L1210.9 1345L1213.6 1347.2L1216.9 1350.9L1220.3 1353.4L1223.7 1355.6L1227 1357.6L1229.7 1359.7L1232.5 1362.3L1235.2 1365L1238 1365.4L1240.7 1367.4L1243.4 1369.8L1246.1 1371L1248.9 1370.9L1251.6 1371.5L1254.3 1373L1257 1373.4L1259.7 1375.2L1262.5 1376.6L1265.2 1379.2L1267.9 1380.2L1271.3 1381.7L1274.7 1384.5L1278 1386.8L1281.4 1386.9L1284.1 1388.7L1286.8 1388.8L1289.6 1390.7L1292.3 1390.9L1295 1390.9L1297.7 1391.9L1300.4 1392.6L1303.2 1394.8L1305.9 1395.6L1308.6 1396.2L1311.9 1397.7L1315.3 1398.6L1318.7 1400.7L1322 1400.1L1324.7 1402.5L1327.5 1401.5L1330.2 1402.1L1333 1402L1335.7 1403.2L1338.4 1404L1341.1 1404.1L1343.9 1404.8L1346.6 1406.1L1349.3 1407.3L1352 1406.7L1354.7 1408.1L1357.5 1409.2L1360.2 1408.6L1362.9 1408.6L1366.3 1409.8L1369.7 1412.1L1373 1413.2L1376.4 1415.1L1379.1 1415L1381.8 1413.6L1384.6 1413.6L1387.3 1413.9L1390 1413.8L1392.7 1415.4L1395.4 1416L1398.2 1416.4L1400.9 1415.1L1403.6 1416.9L1406.3 1416L1409 1416.6L1411.8 1417.7L1414.5 1416.6L1417.2 1417L1420.6 1418.8L1424 1417.5L1427.3 1417.7L1430.7 1418.2L1433.4 1418.7L1436.1 1417.3L1438.9 1418.4L1441.6 1418.9L1444.3 1419.3L1447 1418.5L1449.7 1419.3L1452.5 1420L1455.2 1418.6L1457.9 1418.8L1460.9 1418.2L1463.9 1419.1L1467 1420.5L1470 1419.6L1473 1421.9L1476.1 1422.4L1479.2 1420.8L1482.4 1423.2L1485.5 1422.2L1488.6 1423.5L1491.8 1423.9L1494.9 1423.1L1498 1424.4L1501.1 1424.2L1504.2 1424.4L1507.4 1422.9L1510.5 1423.9L1513.6 1424.2L1516.8 1423.3L1519.9 1422.8L1523 1421.6L1526.1 1422.7L1529.2 1422.5L1532.4 1423.6L1535.5 1423.7L1538.6 1423.6L1541.8 1422.9L1544.9 1424.2L1548 1424.3L1551.1 1423.4L1554.2 1425.2L1557.4 1424.7L1560.5 1423.6L1563.6 1425.7L1566.8 1423.9L1569.9 1424.5L1573 1425.5L1576.1 1425.4L1579.2 1425.4L1582.4 1425.7L1585.5 1425.4L1588.6 1425.2L1591.8 1425L1594.9 1424.8L1598 1426.5L1601.1 1427L1604.2 1426.9L1607.4 1427.7L1610.5 1427.2L1613.6 1427.3L1616.8 1428L1619.9 1429.5L1623 1427.9L1626.1 1429.3L1629.2 1428.9L1632.4 1430.4L1635.5 1429.6L1638.6 1429.8L1641.8 1430.3L1644.9 1430.8L1648 1431.7L1651.1 1431L1654.2 1432.6L1657.4 1431.2L1660.5 1431.9L1663.6 1431.9L1666.8 1432.3L1669.9 1434.3L1673 1434.5L1676.1 1433.5L1679.2 1433.8L1682.4 1434.5L1685.5 1435.6L1688.6 1436L1691.8 1436.1L1694.9 1436L1698 1435.2L1701.1 1435.9L1704.2 1435.6L1707.4 1436.6L1710.5 1436.9L1713.6 1436.2L1716.8 1436.5L1719.9 1438L1723 1436.4L1726.1 1438.4L1729.2 1438.8L1732.4 1439.1L1735.5 1438L1738.6 1438.6L1741.8 1438.8L1744.9 1439.1L1748 1440.1L1751.1 1439.7L1754.2 1439L1757.4 1440.6L1760.5 1440L1763.6 1440.5L1766.8 1441L1769.9 1439.6L1773 1441.6L1776.1 1441.6L1779.2 1441.4L1782.4 1441.6L1785.5 1441.7L1788.6 1441.2L1791.8 1442.2L1794.9 1441.2L1798 1442.5L1801.1 1443L1804.2 1442.7L1807.4 1443.2L1810.5 1444.4L1813.6 1444.4L1816.8 1442.8L1819.9 1444.5L1823 1444.3L1826.1 1443L1829.2 1443.9L1832.4 1443.7L1835.5 1443.5L1838.6 1444.7L1841.8 1445.8L1844.9 1444.5L1848 1445.9L1851.1 1445.6L1854.2 1444.4L1857.4 1446.2L1860.5 1445.7L1863.6 1446.6L1866.8 1446.3L1869.9 1446.5L1873 1445.6L1875.9 1446.9L1878.8 1447.4L1881.6 1447.4L1884.5 1446.6L1887.4 1447.6L1890.2 1447.1L1893.1 1446.4L1896 1446.4L1899.2 1446.9L1902.3 1447.6L1905.5 1447.9L1908.7 1449.2L1911.8 1450.1L1915 1450.1L1918.1 1449.8L1921.2 1450.4L1924.4 1449.5L1927.5 1449.9L1930.6 1450.6L1933.8 1449.8L1936.9 1449.2L1940 1451L1943.1 1450.8L1946.2 1450.3L1949.4 1450.6L1952.5 1451.3L1955.6 1451.8L1958.8 1451.2L1961.9 1451L1965 1451.8L1968.1 1453.5L1971.2 1452.3L1974.4 1453.3L1977.5 1453L1980.6 1453.4L1983.8 1453.6L1986.9 1454.5L1990 1454.2L1993.1 1454L1996.2 1454.3L1999.4 1454.6L2002.5 1455.5L2005.6 1454.6L2008.8 1454.6L2011.9 1455.8L2015 1455.8L2018.1 1456.7L2021.2 1455.3L2024.4 1456.3L2027.5 1456.5L2030.6 1455.8L2033.8 1458.2L2036.9 1456.6L2040 1456.5L2043.1 1457.8L2046.2 1457.3L2049.4 1458.7L2052.5 1458.4L2055.6 1458.2L2058.8 1458.3L2061.9 1460.2L2065 1459.5L2068.1 1460.8L2071.2 1460.2L2074.4 1461.4L2077.5 1460L2080.6 1460L2083.8 1460.2L2086.9 1461.6L2090 1461.3L2093.1 1460.8L2096.2 1460.4L2099.4 1462L2102.5 1462.9L2105.6 1462.2L2108.8 1460.9L2111.9 1461.2L2115 1461.5L2118.1 1461.9L2121.2 1461.8L2124.4 1462L2127.5 1463.6L2130.6 1464.4L2133.8 1462.9L2136.9 1464.9L2140 1463.9L2143.1 1465L2146.2 1465.5L2149.4 1465.8L2152.5 1463.9L2155.6 1464.8L2158.8 1465.8L2161.9 1466.8L2165 1465L2168.1 1465.7L2171.2 1467.2L2174.4 1465.6L2177.5 1466.5L2180.6 1466.5L2183.8 1467.6L2186.9 1468.3L2190 1466.7L2193 1468.1L2196 1468.1L2199 1468.3L2202 1467.6L2205 1467.5" stroke="#00f" stroke-width="5.5"/>
<path d="M174 1513.4L177.2 1511.9L180.3 1511.5L183.5 1509.8L186.7 1508.5L189.6 1508.2L192.4 1508.3L195.3 1506.9L198.1 1505.7L201 1503.3L204.2 1503.4L207.3 1502.1L210.5 1501.2L213.7 1500.4L216.8 1500L220 1501L222.8 1500L225.7 1499.2L228.5 1498.4L231.3 1496.1L234.2 1495.6L237 1495.6L239.8 1494.8L242.6 1494L245.4 1493L248.2 1490.1L251 1490.3L254.2 1489.5L257.5 1488.1L260.8 1486.4L264 1486.2L267.2 1484.3L270.5 1485.4L273.2 1484.2L276 1482.3L278.8 1480.6L281.5 1480.9L284.2 1479L287 1478.6L289.8 1477L292.6 1474.6L295.4 1472.9L298.2 1471.8L301 1469.8L303.8 1468L306.6 1467.2L309.4 1467.2L312.3 1464.2L315.1 1463.1L317.9 1463.3L320.7 1461.3L323.5 1460.1L326.3 1458.1L329 1456L331.8 1455.7L334.6 1452L337.4 1450.7L340.1 1449L342.8 1448.9L345.6 1446.8L348.3 1445.8L351 1445.6L353.8 1442.1L356.7 1440.1L359.5 1438.5L362.4 1434L365.2 1431.4L368.1 1429.3L370.9 1428.1L373.7 1426.4L376.5 1424.1L379.2 1422.9L382 1421.1L384.8 1420.4L387.6 1418L391 1418.3L394.3 1417.5L397.6 1416.4L401 1414.6L403.9 1412.7L406.7 1408.1L409.6 1406.3L412.4 1405.6L415.3 1402.7L418.1 1399.5L421 1398.4L423.8 1395.6L426.6 1394.2L429.4 1391L432.3 1388.8L435.1 1387.4L437.9 1384.7L440.7 1383.4L443.5 1382.8L446.2 1379.3L449 1376.6L451.8 1374.8L454.6 1373.1L457.7 1372L460.7 1368.5L463.8 1365.7L466.8 1362.7L469.9 1362.3L472.9 1358.4L476 1355.3L479.1 1352.9L482.2 1350.9L485.4 1349.2L488.5 1348.4L491.6 1345.2L494.8 1342.9L497.9 1342L501 1339.4L504.1 1338.4L507.2 1333.5L510.4 1331.6L513.5 1329.4L516.6 1325.7L519.8 1324.3L522.9 1320.3L526 1316.9L529.1 1314.2L532.2 1310.1L535.4 1307.9L538.5 1304.4L541.6 1302.8L544.8 1299.5L547.9 1295.6L551 1291.4L554.1 1288.2L557.2 1284.4L560.4 1280.5L563.5 1276.9L566.6 1274.6L569.8 1269.1L572.9 1265.2L576 1263.5L579 1258L582 1254.3L585 1248.2L588 1244.7L591 1239.4L594 1235.1L597 1230.3L600 1225L603 1218L606 1212.3L609 1207.9L612 1202L615 1196L618 1189.1L621 1184.4L624 1179.2L627 1173.3L630 1168.3L633 1160.1L636 1152.9L639 1145.4L642 1136.9L645 1131L648.1 1123.6L651.2 1114L654.4 1108.6L657.5 1101.1L660.8 1090.4L664.2 1078.9L667.5 1071L671.2 1059.1L675 1051.1L678.8 1035.4L682.5 1018.9L686.2 1004.2L690 990.3L693.8 978.9L697.5 968.1L700.1 962.6L702.8 954.9L705.1 941.3L707.5 930.4L711.2 918.8L715 911.5L717.8 895.6L720.6 883.2L723.5 873.8L726.3 864.7L729.5 854.5L732.8 845.9L735.1 833L737.5 822.9L741.2 809L745 797.2L748.3 788.5L751.6 779.3L754 771L756.3 761.4L760 742.7L762.8 736.5L765.6 728.8L768.5 718.4L771.3 706.6L774.1 700.4L776.9 696L779.7 691.9L783 685.7L786.3 678.8L789.1 674.3L791.9 667.7L794.7 661.2L797.5 657.6L800.3 646.9L803.6 652.6L806.9 656.1L809.7 654.6L812.5 653.8L814.9 651.6L817.2 646.2L820.5 648.6L823.8 652.2L826.1 652.8L828.4 651.9L829.4 674.2L832.5 678.4L835.7 681.3L838.8 682.8L841.6 692.2L844.4 698.1L847.2 701.1L850 705.2L852.8 710.8L855.6 718.2L858 723.3L860.3 731.5L863.6 735.5L866.9 741.1L869.7 747.5L872.5 752.7L875.3 758.9L878.1 765.4L881.9 772.4L885.6 778.2L888.9 787.4L892.2 796.4L895.5 802.8L898.8 809.9L902.5 815.9L906.3 821.5L909.4 826.3L912.5 832.1L915.6 835.3L918.7 840.6L921.9 845.6L925 849.1L928.8 854.8L932.5 860.3L936.2 866.1L940 874.1L943.8 877.7L947.5 883.5L950.3 884.9L953.1 889L956 891.7L958.8 894.1L962.5 898.3L966.3 902.2L969.1 907.5L971.9 910.3L974.7 914.7L977.5 917.2L981.2 921.8L985 926.6L987.8 930.1L990.6 930.5L993.5 934.1L996.3 934.7L1000 939.9L1003.8 944L1006.6 947L1009.4 948.1L1012.2 951.2L1015 954.8L1018 955.9L1021 960L1024 962.1L1027.1 964.5L1030.2 966.4L1033.4 968.8L1036.5 973.6L1039.6 976.4L1042.8 979.5L1045.9 982.6L1049 986.1L1052.1 986.1L1055.2 989L1058.4 990.6L1061.5 992.7L1064.6 996.7L1067.8 999.4L1070.9 1003L1074 1004.1L1077.1 1007.9L1080.2 1010.4L1083.4 1013.1L1086.5 1015.3L1089.6 1017.7L1092.8 1018.3L1095.9 1021.7L1099 1022.3L1102.1 1024.6L1105.2 1027.2L1108.4 1028.6L1111.5 1029.5L1114.6 1031.6L1117.8 1034.1L1120.9 1037.1L1124 1040.2L1127.1 1041.5L1130.2 1041.8L1133.4 1043.3L1136.5 1045.8L1139.6 1046.4L1142.8 1048.5L1145.9 1049.5L1149 1051.7L1152.1 1054.5L1155.2 1056.7L1158.4 1058.4L1161.5 1059.7L1164.6 1063L1167.8 1064L1170.9 1064.8L1174 1066.5L1177.1 1069.3L1180.2 1069.9L1183.4 1070.4L1186.5 1070.2L1189.6 1070.8L1192.8 1071.5L1195.9 1073.2L1199 1074.3L1202.1 1077.3L1205.2 1078.4L1208.4 1079.4L1211.5 1079.2L1214.6 1080.4L1217.8 1081.5L1220.9 1084.1L1224 1083.2L1227.1 1085.6L1230.2 1086.2L1233.4 1086.7L1236.5 1088.6L1239.6 1088.2L1242.8 1090.1L1245.9 1090.4L1249 1091.5L1252.1 1092.6L1255.2 1094.6L1258.4 1095.3L1261.5 1096.4L1264.6 1099.9L1267.8 1099.5L1270.9 1102.2L1274 1103L1277.1 1103.7L1280.2 1104.1L1283.4 1105.5L1286.5 1105.9L1289.6 1106.2L1292.8 1106.4L1295.9 1107.3L1299 1108L1302.1 1108.3L1305.2 1108.8L1308.4 1108.5L1311.5 1110.8L1314.6 1110.6L1317.8 1110.2L1320.9 1111.1L1324 1113.4L1327.1 1113.2L1330.2 1114.7L1333.4 1116.7L1336.5 1118.4L1339.6 1117.1L1342.8 1117.2L1345.9 1117.3L1349 1116.4L1352.1 1119L1355.2 1117.6L1358.4 1120.5L1361.5 1119.2L1364.6 1120.2L1367.8 1122.8L1370.9 1123.8L1374 1123.4L1377.1 1125L1380.2 1125.7L1383.4 1127.1L1386.5 1126.7L1389.6 1128.9L1392.8 1129.9L1395.9 1129.9L1399 1131L1402.1 1131L1405.2 1129.7L1408.4 1130.8L1411.5 1130.8L1414.6 1130.5L1417.8 1129.6L1420.9 1131L1424 1132L1427.1 1131.3L1430.2 1132.9L1433.4 1134.2L1436.5 1134.2L1439.4 1132.5L1442.2 1133.6L1445.1 1132.3L1448 1133.4L1451 1133.9L1454 1134L1457 1136.4L1460 1136.8L1463 1137.1L1466 1138.3L1469 1138.4L1472 1138.4L1475 1138.4L1478 1137.9L1481 1138L1484 1137.8L1487 1137.6L1490 1138.7L1493 1137.1L1496 1138L1499 1141L1502 1142L1505 1143.6L1508 1145.2L1511 1145.4L1514 1146.3L1517 1147L1520 1149.7L1523 1151L1526 1150L1529 1148.1L1532 1149.6L1535 1148.8L1538 1147.5L1541 1147.3L1544 1150.3L1547 1150.8L1550 1151.8L1553 1151.3L1556 1154.1L1559 1153.4L1562 1155.4L1565 1155.6L1568 1157.2L1571 1158.4L1574 1158.1L1577 1158.3L1580 1157L1583 1157.2L1586 1158.9L1589 1158.6L1592 1160.6L1595 1163L1598 1163.6L1601 1165.1L1604 1164.9L1607 1167.1L1610 1168.5L1613 1169.5L1616 1169.5L1619 1169.6L1622 1169.9L1625 1172.7L1628 1173.5L1630.9 1173L1633.7 1175.3L1636.6 1175.5L1639.4 1177.1L1642.3 1178.7L1645.1 1178.5L1648 1180.3L1651.1 1180.7L1654.2 1182.5L1657.4 1182.6L1660.5 1184.4L1663.6 1185.7L1666.8 1188.5L1669.9 1187.9L1673 1190.6L1676.1 1189.6L1679.2 1192.4L1682.4 1191.1L1685.5 1191.5L1688.6 1192.4L1691.8 1194.8L1694.9 1194.8L1698 1195.9L1701.1 1196.2L1704.2 1196.6L1707.4 1198.4L1710.5 1199.9L1713.6 1202.4L1716.8 1201.7L1719.9 1203.1L1723 1205.8L1726.1 1205.6L1729.2 1209.3L1732.4 1209.2L1735.5 1211.4L1738.6 1213.2L1741.8 1215.4L1744.9 1214.9L1748 1218.3L1751.1 1218.3L1754.2 1221.1L1757.4 1221.1L1760.5 1224.4L1763.6 1224.5L1766.8 1226.2L1769.9 1227.3L1773 1229.6L1775.8 1230.8L1778.7 1233.7L1781.5 1234L1784.3 1234.7L1787.2 1237.4L1790 1236.7L1793.1 1238.1L1796.2 1241.1L1799.4 1242.3L1802.5 1242.9L1805.6 1244.5L1808.8 1243.2L1811.9 1246.1L1815 1246.5L1818.1 1247.4L1821.2 1248.8L1824.4 1248.1L1827.5 1249.3L1830.6 1250.6L1833.8 1252.9L1836.9 1254.6L1840 1256.1L1843.1 1256.7L1846.2 1258.6L1849.4 1259.8L1852.5 1260.6L1855.6 1260.4L1858.8 1262.2L1861.9 1263.8L1865 1265.4L1868.1 1267.2L1871.2 1267.3L1874.4 1269.3L1877.5 1269.6L1880.6 1270.7L1883.8 1272.5L1886.9 1274.1L1890 1273.3L1893.1 1274.9L1896.2 1277.7L1899.4 1277.1L1902.5 1277.9L1905.6 1279.5L1908.8 1282.3L1911.9 1283.3L1915 1285.1L1918.1 1284.9L1921.2 1284.6L1924.4 1286.2L1927.5 1288L1930.6 1288.9L1933.8 1289.9L1936.9 1292.1L1940 1293.9L1943.1 1293.9L1946.2 1294.4L1949.4 1293.9L1952.5 1293.9L1955.6 1295.7L1958.8 1295.6L1961.9 1294.8L1965 1294.1L1968.1 1295.8L1971.2 1297.6L1974.4 1299.7L1977.5 1300L1980.6 1302.4L1983.8 1302.6L1986.9 1303L1990 1305.3L1993.1 1305.9L1996.2 1306.5L1999.4 1307.4L2002.5 1306.4L2005.6 1308.2L2008.8 1310L2011.9 1309.3L2015 1309.9L2018.1 1311.2L2021.2 1312.5L2024.4 1313.8L2027.5 1314.6L2030.6 1315.9L2033.8 1315.5L2036.9 1316.5L2040 1317.9L2043.1 1318.9L2046.2 1321.1L2049.4 1322.3L2052.5 1321.9L2055.6 1322.7L2058.8 1323.8L2061.9 1324.5L2065 1324.7L2068.1 1325.9L2071.2 1324.3L2074.4 1324.9L2077.5 1324.1L2080.6 1326.9L2083.8 1327.2L2086.9 1329.2L2090 1328.1L2093.1 1329.8L2096.2 1329.7L2099.4 1328.7L2102.5 1330.8L2105.6 1331.9L2108.8 1331L2111.9 1334.1L2115 1334.7L2118.1 1335.1L2121.2 1335.9L2124.4 1336.1L2127.5 1336.4L2130.6 1337.8L2133.8 1339.1L2136.9 1337.9L2140 1338.9L2143.1 1339L2146.2 1340.5L2149.4 1341.6L2152.5 1341.9L2155.6 1341.2L2158.8 1342.3L2161.9 1342.1L2165 1344.1L2168.1 1346.1L2171.2 1347.3L2174.4 1346.7L2177.5 1348.8L2180.6 1348.2L2183.8 1349.3L2186.9 1350.7L2190 1349.5L2193 1350.8L2196 1351.1L2199 1350.8L2202 1349.3L2205 1350" stroke="#0f0" stroke-width="5.5"/>
</g>
<rect x="173" y="48" width="2034" height="1642" fill="none" stroke="#000" stroke-width="6"/>
<g stroke="#000" stroke-width="6"><line x1="173" y1="1690" x2="173" y2="1709"/><line x1="357.9" y1="1690" x2="357.9" y2="1724"/><line x1="542.8" y1="1690" x2="542.8" y2="1709"/><line x1="727.7" y1="1690" x2="727.7" y2="1724"/><line x1="912.6" y1="1690" x2="912.6" y2="1709" stroke="#b0b0bc"/><line x1="912.6" y1="1690" x2="912.6" y2="1709" stroke-width="3"/><line x1="1097.5" y1="1690" x2="1097.5" y2="1724"/><line x1="1282.5" y1="1690" x2="1282.5" y2="1709"/><line x1="1467.4" y1="1690" x2="1467.4" y2="1724"/><line x1="1652.3" y1="1690" x2="1652.3" y2="1709" stroke="#b0b0bc"/><line x1="1652.3" y1="1690" x2="1652.3" y2="1709" stroke-width="3"/><line x1="1837.2" y1="1690" x2="1837.2" y2="1724"/><line x1="2022.1" y1="1690" x2="2022.1" y2="1709"/><line x1="2207" y1="1690" x2="2207" y2="1724"/></g>
<rect x="202.5" y="80.5" width="982" height="339" fill="none" stroke="#000" stroke-width="3"/>
<g stroke-width="3">
<line x1="250" y1="129.5" x2="407" y2="129.5" stroke="#000"/>
<line x1="250" y1="213" x2="407" y2="213" stroke="#f00"/>
<line x1="250" y1="296.5" x2="407" y2="296.5" stroke="#00f"/>
<line x1="250" y1="380" x2="407" y2="380" stroke="#0f0"/>
</g>
<g font-family="'Liberation Sans', Arial, Helvetica, sans-serif" font-size="69" fill="#000">
<text transform="translate(423 153) scale(1 1.045)">Dexamethasone</text>
<text transform="translate(423 237.2) scale(1 1.045)">MSNs</text>
<text transform="translate(423 320.3) scale(1 1.045)">MSNs+Dexamethasone</text>
<text transform="translate(423 403.6) scale(1 1.045)">PGSuc<tspan font-family="NanumGothic, 'Liberation Sans', sans-serif" font-size="0.92em">1</tspan></text>
</g>
<g font-family="'Liberation Sans', Arial, Helvetica, sans-serif" font-size="67" fill="#000"><text transform="translate(357.9 1798) scale(1 1.125)" text-anchor="middle"><tspan font-family="NanumGothic, 'Liberation Sans', sans-serif" font-size="0.92em">1</tspan>0</text><text transform="translate(727.7 1798) scale(1 1.125)" text-anchor="middle">20</text><text transform="translate(1097.5 1798) scale(1 1.125)" text-anchor="middle">30</text><text transform="translate(1467.4 1798) scale(1 1.125)" text-anchor="middle">40</text><text transform="translate(1837.2 1798) scale(1 1.125)" text-anchor="middle">50</text><text transform="translate(2207 1798) scale(1 1.125)" text-anchor="middle">60</text></g>
<text transform="translate(1189 1928) scale(1 0.95)" text-anchor="middle" font-family="'Liberation Sans', Arial, Helvetica, sans-serif" font-size="85" fill="#000" stroke="#000" stroke-width="0.5">2theta (degrees)</text>
<text transform="translate(90 859) rotate(-90) scale(1 1.02)" text-anchor="middle" font-family="'Liberation Sans', Arial, Helvetica, sans-serif" font-size="85" fill="#000" stroke="#fdfdfd" stroke-width="1.6">Intensity (counts)</text>
</svg>
</body></html>
